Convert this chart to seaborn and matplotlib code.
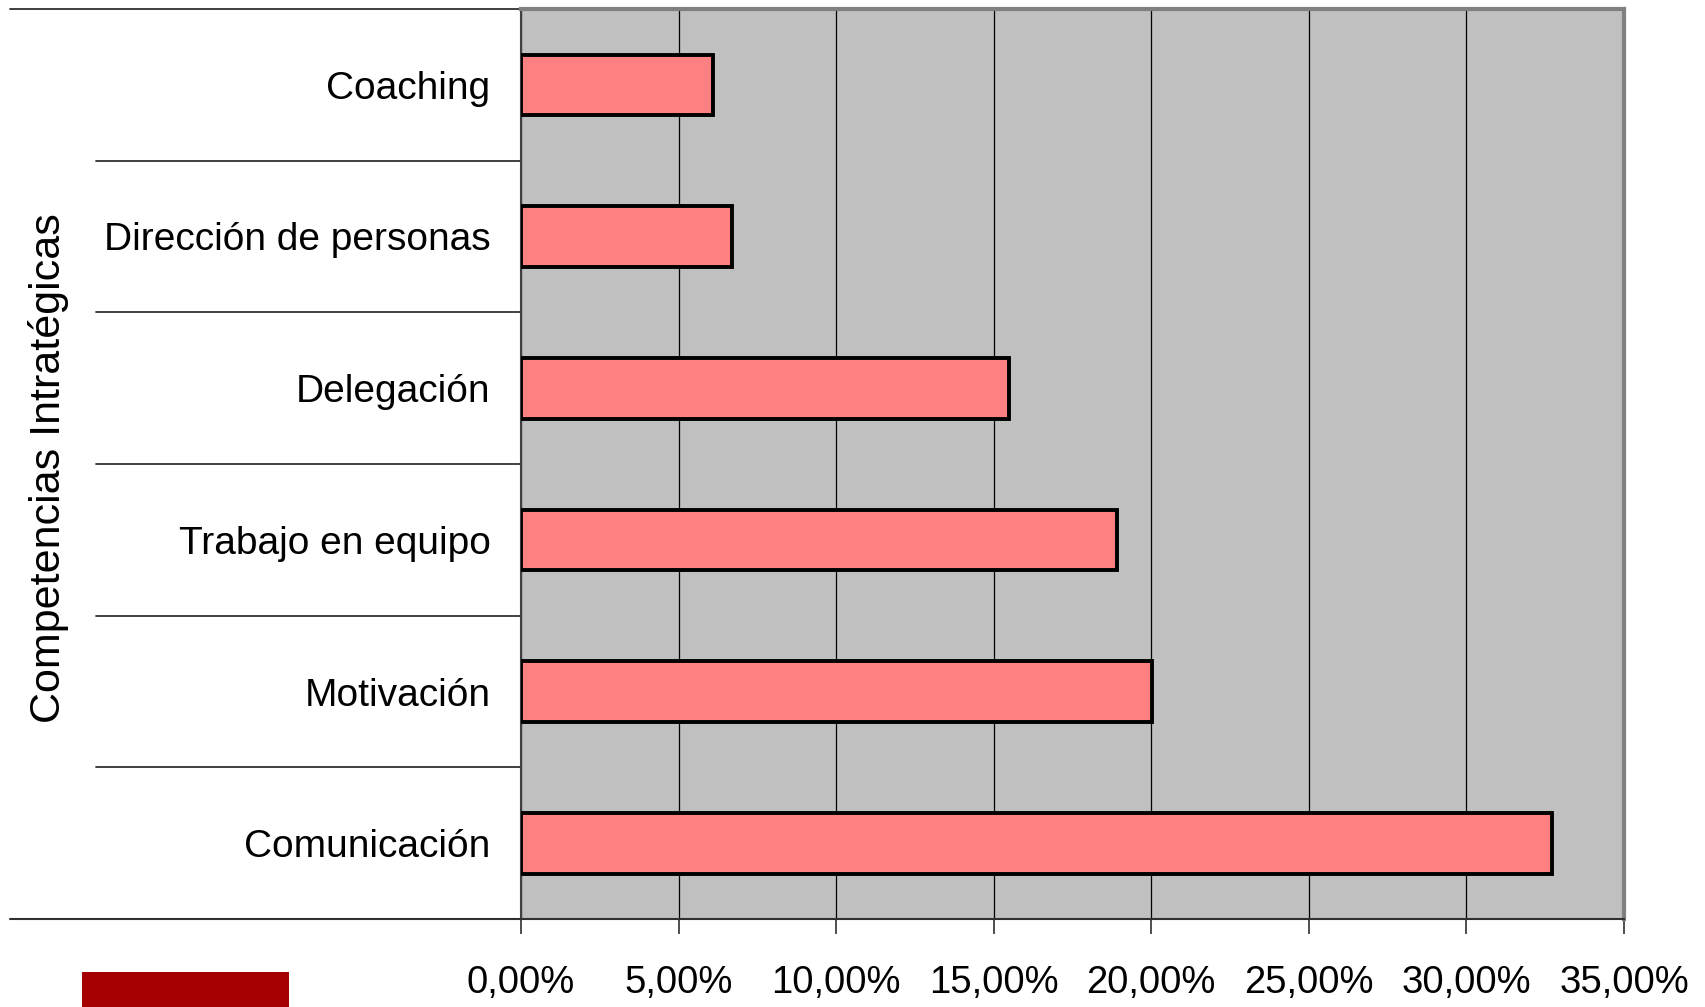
import numpy as np
import pandas as pd
import matplotlib
matplotlib.use("Agg")
import matplotlib.pyplot as plt
import matplotlib.transforms as mtransforms
from matplotlib.patches import Rectangle
from matplotlib.ticker import MultipleLocator, FuncFormatter
import seaborn as sns

# --- Data ---
competencias = ['Coaching', 'Dirección de personas', 'Delegación',
                'Trabajo en equipo', 'Motivación', 'Comunicación']
porcentajes = [6.10, 6.69, 15.48, 18.90, 20.03, 32.72]
y_title = 'Competencias Intratégicas'

df = pd.DataFrame({'competencia': competencias, 'pct': porcentajes})

sns.set_style('white')
plt.rcParams['font.family'] = ['Liberation Sans', 'DejaVu Sans']
plt.rcParams['text.color'] = 'black'
plt.rcParams['xtick.labelcolor'] = 'black'
plt.rcParams['ytick.labelcolor'] = 'black'

fig = plt.figure(figsize=(17.06, 10.07), dpi=100)
ax = fig.add_axes([521 / 1706, 1 - 919 / 1007, (1624 - 521) / 1706, (919 - 9) / 1007])
ax.set_facecolor('#C0C0C0')

sns.barplot(data=df, x='pct', y='competencia', orient='h', color='#FF8080',
            saturation=1, width=0.4, edgecolor='black', linewidth=2.8, ax=ax, zorder=3)

ax.set_xlim(0, 35)
ax.set_ylim(5.5, -0.5)
ax.xaxis.set_major_locator(MultipleLocator(5))
ax.xaxis.set_major_formatter(FuncFormatter(lambda v, p: f"{v:.2f}%".replace('.', ',')))
ax.grid(True, axis='x', color='black', linewidth=0.9, zorder=0)
ax.grid(False, axis='y')
ax.set_axisbelow(True)

ax.tick_params(axis='x', direction='out', length=11, width=1.2, color='#303030',
               labelsize=27.5, labelcolor='black', pad=22, bottom=True)
ax.tick_params(axis='y', length=0, labelsize=28, labelcolor='black', pad=22)
ax.set_xlabel('')
ax.set_ylabel('')

for s in ['top', 'right']:
    ax.spines[s].set_color('#808080')
    ax.spines[s].set_linewidth(3)
ax.spines['left'].set_color('#404040')
ax.spines['left'].set_linewidth(1.5)
ax.spines['bottom'].set_color('#303030')
ax.spines['bottom'].set_linewidth(1.5)

# category separator lines in the label area
trans = mtransforms.blended_transform_factory(ax.transAxes, ax.transData)
x_inner = (96 - 521) / (1624 - 521)
x_outer = (10 - 521) / (1624 - 521)
for yb in np.arange(0.5, len(competencias) - 1, 1.0):
    ax.plot([x_inner, 0], [yb, yb], color='#303030', lw=1.3, transform=trans, clip_on=False)
ax.plot([x_outer, 0], [-0.5, -0.5], color='#303030', lw=1.3, transform=trans, clip_on=False)
ax.plot([x_outer, 0], [5.5, 5.5], color='#303030', lw=1.5, transform=trans, clip_on=False)

fig.text(49 / 1706, 1 - 468 / 1007, y_title, rotation=90, ha='center', va='center',
         fontsize=31, color='black')

# legend swatch
fig.patches.append(Rectangle((82 / 1706, 0), (289 - 82) / 1706, 35 / 1007,
                             transform=fig.transFigure, facecolor='#A50000', edgecolor='none'))

fig.savefig('out.png', dpi=100)
